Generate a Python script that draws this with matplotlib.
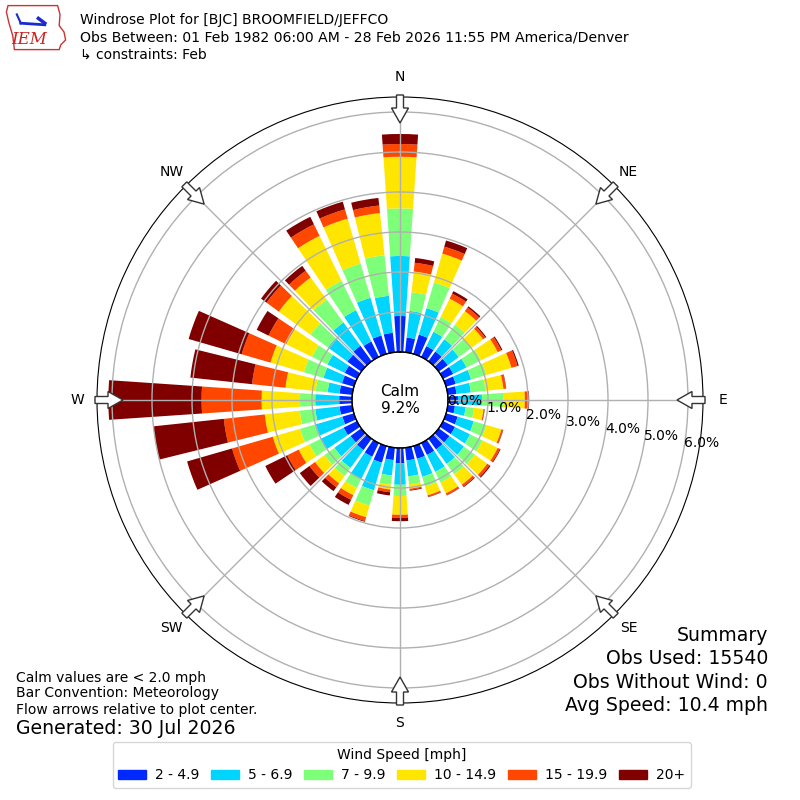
import numpy as np
import matplotlib
matplotlib.use("Agg")
import matplotlib.pyplot as plt
from matplotlib.patches import FancyArrow, Patch, Polygon

# direction of each bar, degrees from north
directions = np.arange(0, 360, 10)

top_2_49 = [0.90, 0.37, 0.50, 0.30, 0.30, 0.28, 0.28, 0.25, 0.22, 0.25, 0.18, 0.30,
            0.33, 0.33, 0.33, 0.33, 0.33, 0.32, 0.38, 0.31, 0.43, 0.38, 0.35, 0.33,
            0.37, 0.30, 0.32, 0.32, 0.32, 0.31, 0.34, 0.43, 0.48, 0.43, 0.48, 0.49]
top_5_69 = [2.40, 1.04, 1.19, 0.70, 0.68, 0.62, 0.65, 0.65, 0.58, 0.85, 0.45, 0.72,
            0.75, 0.78, 0.78, 0.80, 0.80, 0.72, 0.92, 0.70, 1.15, 1.00, 0.90, 0.83,
            1.02, 0.99, 0.93, 0.92, 0.62, 0.79, 0.82, 1.03, 1.20, 1.30, 1.46, 1.42]
top_7_99 = [3.59, 1.51, 1.86, 1.11, 1.13, 1.00, 1.05, 1.05, 0.95, 1.38, 0.66, 1.05,
            1.10, 1.12, 1.10, 1.10, 1.05, 0.92, 1.20, 0.93, 1.55, 1.25, 1.15, 1.14,
            1.32, 1.40, 1.32, 1.30, 0.92, 1.30, 1.25, 1.57, 1.91, 2.12, 2.35, 2.44]
top_10_149 = [4.88, 2.03, 2.61, 1.62, 1.55, 1.37, 1.52, 1.70, 1.40, 1.92, 0.90, 1.44,
              1.52, 1.50, 1.42, 1.40, 1.28, 1.03, 1.67, 1.05, 1.85, 1.45, 1.38, 1.43,
              1.62, 2.11, 2.20, 2.26, 1.68, 2.17, 1.97, 2.55, 2.59, 3.37, 3.52, 3.50]
top_15_199 = [5.20, 2.25, 2.79, 1.76, 1.66, 1.44, 1.62, 1.86, 1.46, 2.01, 0.92, 1.48,
              1.58, 1.57, 1.48, 1.45, 1.32, 1.06, 1.75, 1.12, 1.95, 1.58, 1.50, 1.60,
              1.94, 3.17, 3.23, 3.76, 2.52, 2.92, 2.46, 2.93, 2.80, 3.69, 3.76, 3.69]
top_20 = [5.45, 2.37, 2.95, 1.83, 1.70, 1.47, 1.65, 1.89, 1.47, 2.03, 0.93, 1.49,
          1.60, 1.60, 1.50, 1.46, 1.33, 1.08, 1.83, 1.20, 1.97, 1.72, 1.62, 1.90,
          2.55, 4.34, 5.00, 6.09, 4.07, 4.30, 2.79, 3.10, 2.95, 3.90, 3.96, 3.88]

bin_labels = ["2 - 4.9", "5 - 6.9", "7 - 9.9", "10 - 14.9", "15 - 19.9", "20+"]
calm_pct = 9.2
ring_values = [0, 1, 2, 3, 4, 5, 6]
compass = ["N", "NE", "E", "SE", "S", "SW", "W", "NW"]

tops = np.array([top_2_49, top_5_69, top_7_99, top_10_149, top_15_199, top_20])
freq = np.diff(np.vstack([np.zeros(len(directions)), tops]), axis=0)
colors = plt.cm.jet(np.linspace(0, 1, 7)[1:])

fig = plt.figure(figsize=(8, 8), dpi=100)

# -----------------------------
# polar rose
# -----------------------------
ax = fig.add_axes([0.12125, 0.12125, 0.7575, 0.7575], projection="polar")
ax.set_theta_zero_location("N")
ax.set_theta_direction(-1)
ax.set_rorigin(-1.2)
ax.set_ylim(0, 6.375)

theta = np.deg2rad(directions)
bottom = np.zeros(len(directions))
for i, lab in enumerate(bin_labels):
    ax.bar(theta, freq[i], width=np.deg2rad(7.8), bottom=bottom,
           color=colors[i], linewidth=0, label=lab)
    bottom += freq[i]

ax.set_rticks(ring_values[1:])
ax.set_yticklabels([])
ax.set_xticks(np.deg2rad(np.arange(0, 360, 45)))
ax.set_xticklabels([])
ax.grid(color="#b0b0b0", lw=1)
ax.set_axisbelow(False)

# black edge of the calm circle
circ = np.linspace(0, 2 * np.pi, 361)
ax.plot(circ, np.zeros_like(circ), color="black", lw=1, zorder=5, clip_on=False)

for r in ring_values:
    ax.text(np.deg2rad(100), r, "%.1f%%" % r, ha="left", va="bottom",
            fontsize=10, zorder=6)

ax.text(0.5, 0.5, "Calm\n%.1f%%" % calm_pct, transform=ax.transAxes,
        ha="center", va="center", fontsize=11, zorder=6)

# direction labels and inward arrows
R = 606.0
for k, name in enumerate(compass):
    a = np.deg2rad(k * 45)
    ux, uy = np.sin(a), np.cos(a)
    ax.text(0.5 + ux * 323 / R, 0.5 + uy * 323 / R, name, transform=ax.transAxes,
            ha="center", va="center", fontsize=10)
    arr = FancyArrow(0.5 + ux * 305 / R, 0.5 + uy * 305 / R,
                     -ux * 28 / R, -uy * 28 / R, width=7 / R,
                     head_width=17 / R, head_length=15 / R,
                     length_includes_head=True, transform=ax.transAxes,
                     fc="white", ec="#333333", lw=1, clip_on=False, zorder=7)
    ax.add_patch(arr)

# -----------------------------
# logo (rough)
# -----------------------------
iowa = Polygon([(0.010, 0.993), (0.072, 0.993), (0.075, 0.982), (0.074, 0.968),
                (0.080, 0.960), (0.082, 0.950), (0.076, 0.944), (0.074, 0.938),
                (0.018, 0.938), (0.016, 0.955), (0.011, 0.972), (0.008, 0.985)],
               closed=True, fill=False, ec="#cc3333", lw=1,
               transform=fig.transFigure)
fig.patches.append(iowa)
fig.lines.append(plt.Line2D([0.026, 0.056], [0.971, 0.969], color="#1a2bd0",
                            lw=2, transform=fig.transFigure))
fig.lines.append(plt.Line2D([0.026, 0.021], [0.971, 0.982], color="#1a2bd0",
                            lw=1.5, transform=fig.transFigure))
fig.lines.append(plt.Line2D([0.048, 0.056], [0.977, 0.971], color="#1a2bd0",
                            lw=2.5, transform=fig.transFigure))
fig.text(0.037, 0.951, "IEM", color="#cc2222", fontsize=12, style="italic",
         family="DejaVu Serif", ha="center", va="center")

# -----------------------------
# text
# -----------------------------
fig.text(0.1, 0.975, "Windrose Plot for [BJC] BROOMFIELD/JEFFCO", fontsize=10, va="center")
fig.text(0.1, 0.953, "Obs Between: 01 Feb 1982 06:00 AM - 28 Feb 2026 11:55 PM America/Denver",
         fontsize=10.1, va="center")
fig.text(0.1, 0.932, "\u21b3 constraints: Feb", fontsize=10, va="center")

fig.text(0.02, 0.1525, "Calm values are < 2.0 mph", fontsize=10, va="center")
fig.text(0.02, 0.1335, "Bar Convention: Meteorology", fontsize=10, va="center")
fig.text(0.02, 0.1125, "Flow arrows relative to plot center.", fontsize=10, va="center")
fig.text(0.02, 0.0890, "Generated: 30 Jul 2026", fontsize=13.6, va="center")

fig.text(0.96, 0.206, "Summary", fontsize=13.6, ha="right", va="center")
fig.text(0.96, 0.1775, "Obs Used: 15540", fontsize=13.6, ha="right", va="center")
fig.text(0.96, 0.1475, "Obs Without Wind: 0", fontsize=13.6, ha="right", va="center")
fig.text(0.96, 0.1185, "Avg Speed: 10.4 mph", fontsize=13.6, ha="right", va="center")

handles = [Patch(color=colors[i], label=bin_labels[i]) for i in range(len(bin_labels))]
fig.legend(handles=handles, ncol=6, loc="lower center", bbox_to_anchor=(0.502, 0.015),
           borderaxespad=0, title="Wind Speed [mph]", fontsize=10, title_fontsize=10,
           handletextpad=0.65, columnspacing=0.85)

fig.savefig("out.png", dpi=100)
